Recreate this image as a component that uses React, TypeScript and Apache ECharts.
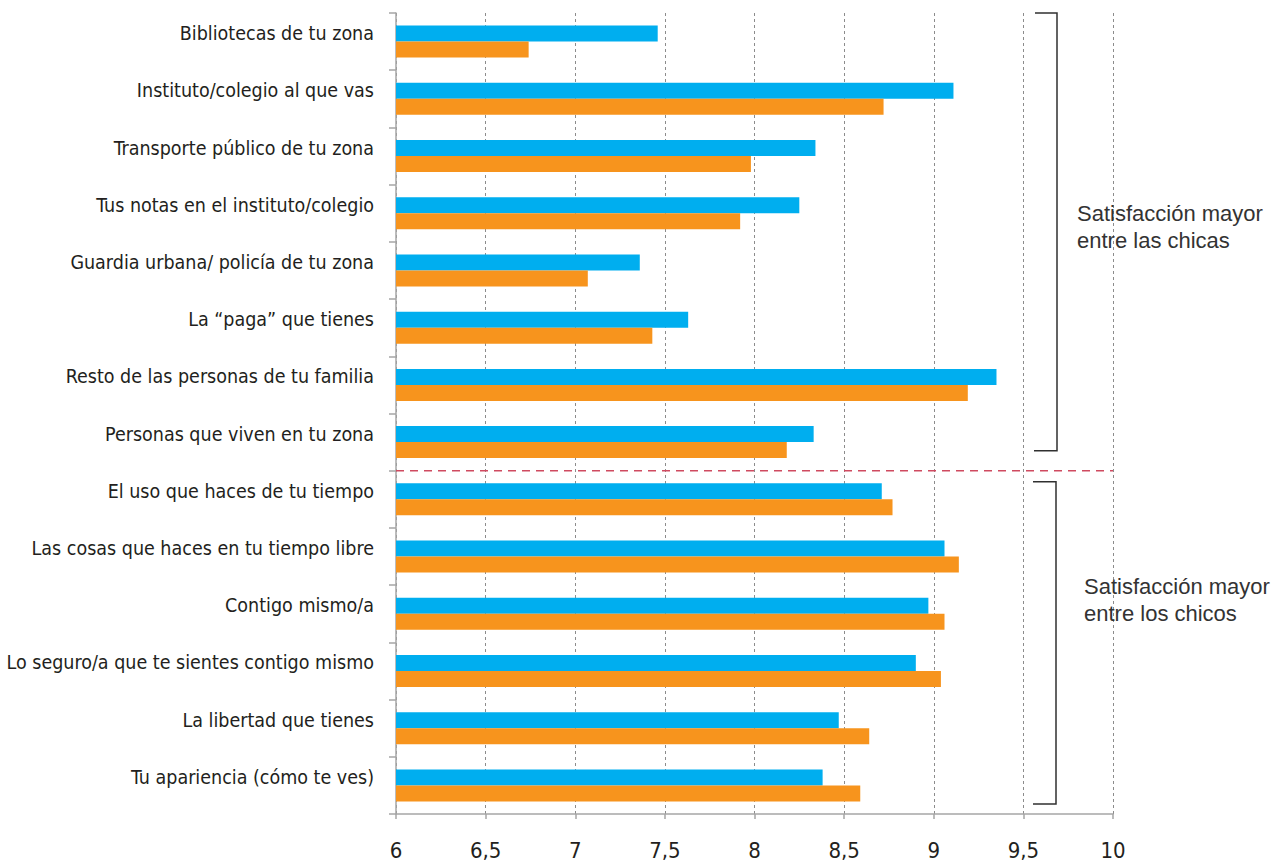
import React, { useEffect, useRef } from "react";
import * as echarts from "echarts";

const categories = [
  "Bibliotecas de tu zona",
  "Instituto/colegio al que vas",
  "Transporte público de tu zona",
  "Tus notas en el instituto/colegio",
  "Guardia urbana/ policía de tu zona",
  "La “paga” que tienes",
  "Resto de las personas de tu familia",
  "Personas que viven en tu zona",
  "El uso que haces de tu tiempo",
  "Las cosas que haces en tu tiempo libre",
  "Contigo mismo/a",
  "Lo seguro/a que te sientes contigo mismo",
  "La libertad que tienes",
  "Tu apariencia (cómo te ves)",
];

const chicas = [7.46, 9.11, 8.34, 8.25, 7.36, 7.63, 9.35, 8.33, 8.71, 9.06, 8.97, 8.9, 8.47, 8.38];
const chicos = [6.74, 8.72, 7.98, 7.92, 7.07, 7.43, 9.19, 8.18, 8.77, 9.14, 9.06, 9.04, 8.64, 8.59];

const xMin = 6;
const xMax = 10;
const xStep = 0.5;

const groupLabels = ["Satisfacción mayor\nentre las chicas", "Satisfacción mayor\nentre los chicos"];

const BLUE = "#00AEEF";
const ORANGE = "#F7941D";
const NARROW = "'Liberation Sans Narrow', 'DejaVu Sans Condensed', 'Roboto', sans-serif";

export default function App() {
  const ref = useRef<HTMLDivElement>(null);

  useEffect(() => {
    if (!ref.current) return;
    const chart = echarts.init(ref.current, undefined, { renderer: "svg" });
    chart.setOption({
      animation: false,
      backgroundColor: "#ffffff",
      grid: {
        left: 396,
        right: 161,
        top: 13,
        bottom: 49,
        containLabel: false,
        outerBoundsMode: "none",
      },
      xAxis: {
        type: "value",
        min: xMin,
        max: xMax,
        interval: xStep,
        axisLine: { show: true, lineStyle: { color: "#a6a6a6", width: 1.5 } },
        axisTick: { show: true, length: 5, lineStyle: { color: "#a6a6a6", width: 1.5 } },
        axisLabel: {
          margin: 25,
          color: "#231f20",
          fontFamily: NARROW,
          fontSize: 22,
          formatter: (v: number) => String(v).replace(".", ","),
        },
        splitLine: { show: true, lineStyle: { color: "#8c8c8c", type: [3, 3], width: 1 } },
      },
      yAxis: {
        type: "category",
        data: categories,
        inverse: true,
        axisLine: { show: true, lineStyle: { color: "#a6a6a6", width: 1.5 } },
        axisTick: { show: true, length: 7, lineStyle: { color: "#a6a6a6", width: 1.5 } },
        axisLabel: {
          margin: 22,
          color: "#231f20",
          fontFamily: NARROW,
          fontSize: 19.5,
          verticalAlign: "bottom",
          lineHeight: 16,
        },
        splitLine: { show: false },
      },
      series: [
        {
          name: "Chicas",
          type: "bar",
          data: chicas,
          itemStyle: { color: BLUE },
          barWidth: 16,
          barGap: "0%",
          barCategoryGap: "44%",
        },
        {
          name: "Chicos",
          type: "bar",
          data: chicos,
          itemStyle: { color: ORANGE },
          barWidth: 16,
          barGap: "0%",
          barCategoryGap: "44%",
        },
      ],
    });

    const yc = (i: number) => chart.convertToPixel({ yAxisIndex: 0 }, categories[i]) as number;
    const xp = (v: number) => chart.convertToPixel({ xAxisIndex: 0 }, v) as number;
    const band = yc(1) - yc(0);
    const top = yc(0) - band / 2;
    const bottom = yc(categories.length - 1) + band / 2;
    const boundary = (yc(7) + yc(8)) / 2;
    const x0 = xp(xMin);
    const x10 = xp(xMax);
    const xr = x10 - 56;
    const xl = xr - 22;
    const lineStyle = { stroke: "#303030", lineWidth: 1.5, fill: "none" };

    chart.setOption({
      graphic: [
        {
          type: "line",
          shape: { x1: x0, y1: boundary, x2: x10, y2: boundary },
          style: { stroke: "#cf4a60", lineWidth: 1.5, lineDash: [8, 6] },
          z: 10,
        },
        {
          type: "polyline",
          shape: { points: [[xl, top], [xr, top], [xr, boundary - 20], [xl - 1, boundary - 20]] },
          style: lineStyle,
        },
        {
          type: "polyline",
          shape: { points: [[xl - 2, boundary + 11], [xr - 1, boundary + 11], [xr - 1, bottom - 10], [xl - 2, bottom - 10]] },
          style: lineStyle,
        },
        {
          type: "text",
          x: xr + 20,
          y: 200,
          style: {
            text: groupLabels[0],
            fill: "#333333",
            font: "22px 'Liberation Sans', Arial, sans-serif",
            lineHeight: 27,
          },
        },
        {
          type: "text",
          x: xr + 27,
          y: boundary + 102,
          style: {
            text: groupLabels[1],
            fill: "#333333",
            font: "22px 'Liberation Sans', Arial, sans-serif",
            lineHeight: 27,
          },
        },
      ],
    });

    return () => chart.dispose();
  }, []);

  return (
    <div
      ref={ref}
      style={{ position: "absolute", left: 0, top: 0, width: 1274, height: 863 }}
    />
  );
}
